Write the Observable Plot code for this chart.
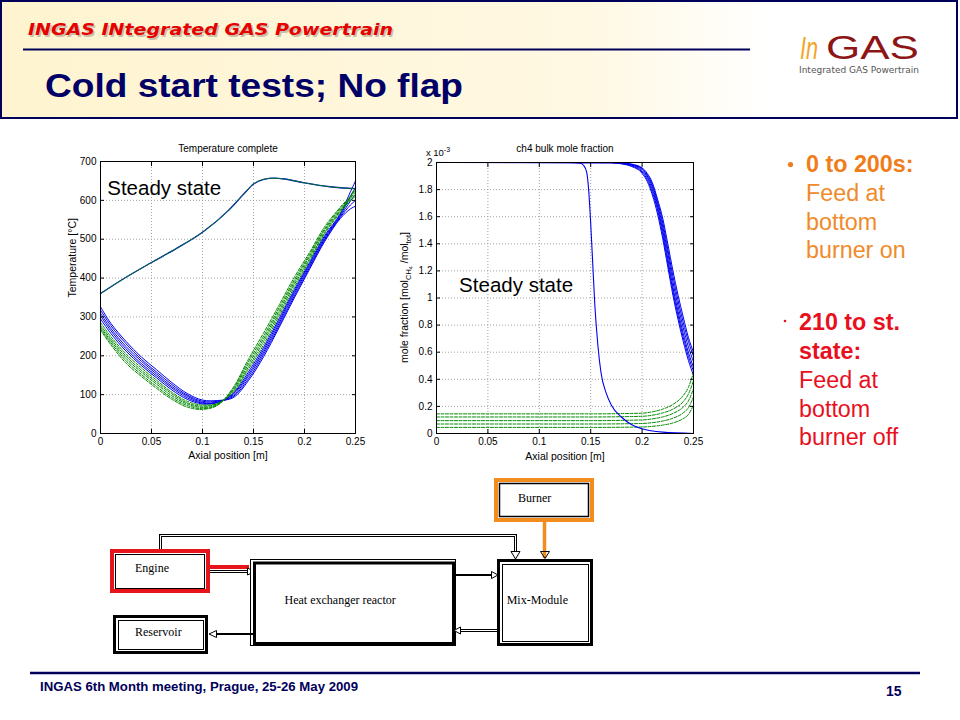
<!DOCTYPE html>
<html>
<head>
<meta charset="utf-8">
<script src="https://cdn.jsdelivr.net/npm/d3@7"></script>
<script src="https://cdn.jsdelivr.net/npm/@observablehq/plot@0.6"></script>
<style>
  html, body { margin: 0; padding: 0; background: #fff; }
  #page { position: relative; width: 960px; height: 720px; overflow: hidden; background: #fff; }
  #deco { position: absolute; left: 0; top: 0; }
  #tempChart { position: absolute; left: 60px; top: 135px; }
  #moleChart { position: absolute; left: 395px; top: 135px; }
</style>
</head>
<body>
<div id="page">
<svg id="deco" width="960" height="720" xmlns="http://www.w3.org/2000/svg">
  <defs>
    <linearGradient id="hdr" x1="0" x2="1" y1="0" y2="0">
      <stop offset="0" stop-color="#FFF4CF"/>
      <stop offset="0.62" stop-color="#FFF8E3"/>
      <stop offset="0.8" stop-color="#FFFFFF"/>
      <stop offset="1" stop-color="#FFFFFF"/>
    </linearGradient>
  </defs>
  <!-- header band -->
  <rect x="1" y="1" width="956" height="117" fill="url(#hdr)" stroke="#00005A" stroke-width="2"/>
  <text x="29.5" y="36.5" font-family="DejaVu Sans, Verdana, sans-serif" font-weight="bold" font-style="italic" font-size="16" fill="#C8C0A8" textLength="365" lengthAdjust="spacingAndGlyphs">INGAS INtegrated GAS Powertrain</text>
  <text x="28" y="35" font-family="DejaVu Sans, Verdana, sans-serif" font-weight="bold" font-style="italic" font-size="16" fill="#E60000" textLength="365" lengthAdjust="spacingAndGlyphs">INGAS INtegrated GAS Powertrain</text>
  <line x1="23" x2="750" y1="49.5" y2="49.5" stroke="#00005A" stroke-width="2"/>
  <text x="45" y="97" font-family="Liberation Sans, Arial, sans-serif" font-weight="bold" font-size="34" fill="#000066" textLength="418" lengthAdjust="spacingAndGlyphs">Cold start tests; No flap</text>
  <!-- logo -->
  <text x="800" y="58.5" font-family="Liberation Sans, Arial, sans-serif" font-style="italic" font-size="32" fill="#F2A52A" textLength="18" lengthAdjust="spacingAndGlyphs">In</text>
  <text x="826" y="58.5" font-family="Liberation Sans, Arial, sans-serif" font-size="33" fill="#8E1515" textLength="93" lengthAdjust="spacingAndGlyphs">GAS</text>
  <text x="799" y="73" font-family="DejaVu Sans, sans-serif" font-size="9.5" fill="#555" textLength="120" lengthAdjust="spacingAndGlyphs">Integrated GAS Powertrain</text>

  <!-- bullets -->
  <g font-family="Liberation Sans, Arial, sans-serif" font-size="23.3">
    <circle cx="790.5" cy="164.5" r="2.6" fill="#F07D1A"/>
    <text x="806" y="172" fill="#F07D1A" font-weight="bold">0 to 200s:</text>
    <text x="806" y="201" fill="#F08A2A">Feed at</text>
    <text x="806" y="229.5" fill="#F08A2A">bottom</text>
    <text x="806" y="258" fill="#F08A2A">burner on</text>
    <circle cx="785" cy="321" r="1.3" fill="#E8101E"/>
    <text x="799" y="330" fill="#E8101E" font-weight="bold">210 to st.</text>
    <text x="799" y="359" fill="#E8101E" font-weight="bold">state:</text>
    <text x="799" y="388" fill="#E8101E">Feed at</text>
    <text x="799" y="416.5" fill="#E8101E">bottom</text>
    <text x="799" y="445" fill="#E8101E">burner off</text>
  </g>

  <!-- process diagram -->
  <g font-family="Liberation Serif, Times New Roman, serif" font-size="12" fill="#000">
    <!-- Burner -->
    <rect x="496" y="480" width="96" height="40" fill="#fff" stroke="#F28C1C" stroke-width="4"/>
    <rect x="499.5" y="483.5" width="89" height="33" fill="none" stroke="#000" stroke-width="1.5"/>
    <text x="518" y="501.7">Burner</text>
    <line x1="544.5" x2="544.5" y1="522" y2="558" stroke="#F28C1C" stroke-width="3.5"/>
    <polygon points="540.5,551.5 549.5,551.5 545,558.5" fill="none" stroke="#000" stroke-width="1"/>
    <!-- loop from engine to mix -->
    <path d="M160.5,549 V535.5 H515.5 V552" fill="none" stroke="#000" stroke-width="3"/>
    <path d="M160.5,549 V535.5 H515.5 V551" fill="none" stroke="#fff" stroke-width="1"/>
    <polygon points="511,551.5 520,551.5 515.5,559" fill="#fff" stroke="#000" stroke-width="1"/>
    <!-- Engine -->
    <rect x="112" y="551" width="96" height="40" fill="#fff" stroke="#E8141B" stroke-width="4"/>
    <rect x="115.5" y="554.5" width="89" height="34" fill="none" stroke="#000" stroke-width="1"/>
    <text x="135" y="572.3">Engine</text>
    <!-- engine to HX -->
    <line x1="210" x2="249" y1="567" y2="567" stroke="#E8141B" stroke-width="4"/>
    <line x1="210" x2="247" y1="571.5" y2="571.5" stroke="#000" stroke-width="3"/>
    <line x1="210" x2="247" y1="571.5" y2="571.5" stroke="#fff" stroke-width="1"/>
    <polygon points="247.5,568 247.5,575 254.5,571.5" fill="#fff" stroke="#000" stroke-width="1"/>
    <!-- Heat exchanger reactor -->
    <rect x="250.5" y="559.5" width="205" height="86" fill="#fff" stroke="#000" stroke-width="1"/>
    <rect x="254.5" y="563" width="199" height="80.5" fill="none" stroke="#000" stroke-width="3"/>
    <text x="284.5" y="604">Heat exchanger reactor</text>
    <!-- HX to Mix -->
    <line x1="454" x2="492" y1="575" y2="575" stroke="#000" stroke-width="2"/>
    <polygon points="491.5,571.5 491.5,578.5 498,575" fill="#fff" stroke="#000" stroke-width="1"/>
    <!-- Mix-Module -->
    <rect x="498.5" y="560.5" width="93" height="84" fill="#fff" stroke="#000" stroke-width="3"/>
    <rect x="502.5" y="564.5" width="86" height="77" fill="none" stroke="#000" stroke-width="1"/>
    <text x="506.7" y="604">Mix-Module</text>
    <!-- Mix to HX -->
    <line x1="460" x2="497" y1="630.5" y2="630.5" stroke="#000" stroke-width="3"/>
    <line x1="460" x2="497" y1="630.5" y2="630.5" stroke="#fff" stroke-width="1"/>
    <polygon points="460.5,627 460.5,634 454,630.5" fill="#fff" stroke="#000" stroke-width="1"/>
    <!-- HX to Reservoir -->
    <line x1="216" x2="255" y1="634" y2="634" stroke="#000" stroke-width="2"/>
    <polygon points="216.5,630.5 216.5,637.5 209,634" fill="#fff" stroke="#000" stroke-width="1"/>
    <!-- Reservoir -->
    <rect x="114.5" y="616.5" width="92" height="36" fill="#fff" stroke="#000" stroke-width="3"/>
    <rect x="118.5" y="620.5" width="85" height="29" fill="none" stroke="#000" stroke-width="1"/>
    <text x="135" y="635.7">Reservoir</text>
  </g>

  <!-- footer -->
  <line x1="30" x2="920" y1="673" y2="673" stroke="#00005A" stroke-width="2.5"/>
  <text x="40" y="691" font-family="Liberation Sans Narrow, Liberation Sans, Arial, sans-serif" font-weight="bold" font-size="13" fill="#00005A" textLength="318" lengthAdjust="spacingAndGlyphs">INGAS 6th Month meeting, Prague, 25-26 May 2009</text>
  <text x="886" y="696" font-family="Liberation Sans, Arial, sans-serif" font-weight="bold" font-size="14" fill="#00005A">15</text>
</svg>
<div id="tempChart"></div>
<div id="moleChart"></div>
</div>
<script>
// ---------- data ----------
const xTicks = [0, 0.05, 0.1, 0.15, 0.2, 0.25];
const tempTicks = [0, 100, 200, 300, 400, 500, 600, 700];
const moleTicks = [0, 0.2, 0.4, 0.6, 0.8, 1, 1.2, 1.4, 1.6, 1.8, 2];

// Temperature chart: transient profiles (axial position [m] -> °C)
const tempX = [0, 0.01, 0.025, 0.04, 0.055, 0.07, 0.085, 0.1, 0.115, 0.13, 0.145, 0.16, 0.175, 0.19, 0.205, 0.22, 0.235, 0.245, 0.25];
const tempBlue1 = [326, 284, 237, 197, 164, 131, 103, 86, 85, 92, 136, 198, 272, 349, 423, 495, 553, 578, 585];
const tempBlue2 = [318, 278, 231, 191, 158, 126, 99, 83, 83, 95, 141, 204, 277, 354, 427, 499, 556, 588, 600];
const tempBlue3 = [310, 271, 224, 186, 153, 121, 96, 80, 81, 98, 147, 210, 283, 360, 431, 502, 559, 598, 615];
const tempBlue4 = [303, 265, 218, 180, 148, 117, 92, 78, 80, 101, 152, 216, 289, 365, 436, 506, 562, 610, 632];
const tempBlue5 = [295, 258, 212, 175, 143, 112, 88, 76, 80, 103, 158, 222, 295, 370, 440, 510, 565, 622, 650];
const tempGreen1 = [286, 250, 205, 169, 137, 106, 83, 73, 78, 106, 165, 229, 302, 376, 445, 515, 568, 600, 610];
const tempGreen2 = [279, 244, 199, 163, 132, 102, 79, 70, 77, 109, 171, 237, 309, 383, 450, 519, 572, 603, 616];
const tempGreen3 = [274, 239, 193, 158, 127, 97, 76, 67, 75, 112, 178, 244, 316, 389, 456, 524, 575, 606, 622];
const tempGreen4 = [270, 234, 187, 152, 121, 92, 72, 64, 74, 115, 185, 251, 323, 395, 461, 528, 579, 609, 628];
const tempGreen5 = [266, 229, 181, 147, 116, 88, 68, 62, 73, 118, 191, 259, 330, 402, 466, 533, 582, 612, 634];
// steady-state temperature profile
const steadyTempX = [0, 0.025, 0.05, 0.075, 0.1, 0.125, 0.14, 0.15, 0.16, 0.17, 0.18, 0.2, 0.225, 0.25];
const steadyTemp = [360, 402, 440, 477, 518, 573, 615, 642, 654, 657, 655, 645, 635, 630];

// CH4 bulk mole fraction chart (x 10^-3)
const steadyMoleX = [0, 0.13, 0.14, 0.143, 0.146, 0.148, 0.15, 0.152, 0.154, 0.157, 0.16, 0.165, 0.17, 0.18, 0.19, 0.2, 0.22, 0.25];
const steadyMole = [2, 2, 1.995, 1.98, 1.93, 1.8, 1.55, 1.25, 0.95, 0.65, 0.45, 0.3, 0.21, 0.12, 0.065, 0.035, 0.01, 0.0];
const moleX = [0, 0.17, 0.18, 0.19, 0.2, 0.205, 0.21, 0.215, 0.22, 0.225, 0.23, 0.235, 0.24, 0.245, 0.25];
const moleBlue1 = [2, 1.998, 1.99, 1.97, 1.92, 1.86, 1.76, 1.62, 1.44, 1.23, 1.02, 0.84, 0.68, 0.54, 0.43];
const moleBlue2 = [2, 1.998, 1.992, 1.975, 1.93, 1.875, 1.78, 1.65, 1.47, 1.26, 1.05, 0.87, 0.71, 0.57, 0.46];
const moleBlue3 = [2, 1.999, 1.994, 1.98, 1.94, 1.89, 1.8, 1.67, 1.5, 1.29, 1.08, 0.9, 0.74, 0.6, 0.49];
const moleBlue4 = [2, 1.999, 1.995, 1.983, 1.95, 1.9, 1.82, 1.69, 1.53, 1.33, 1.12, 0.94, 0.78, 0.64, 0.53];
const moleBlue5 = [2, 2, 1.996, 1.986, 1.955, 1.91, 1.835, 1.71, 1.56, 1.36, 1.16, 0.98, 0.82, 0.68, 0.57];
const moleBlue6 = [2, 2, 1.997, 1.988, 1.96, 1.92, 1.85, 1.73, 1.59, 1.4, 1.2, 1.02, 0.86, 0.71, 0.6];
const moleGreenX = [0, 0.15, 0.2, 0.21, 0.22, 0.23, 0.24, 0.245, 0.25];
const moleGreen1 = [0.145, 0.145, 0.15, 0.16, 0.18, 0.215, 0.28, 0.34, 0.45];
const moleGreen2 = [0.122, 0.122, 0.127, 0.135, 0.152, 0.18, 0.235, 0.29, 0.39];
const moleGreen3 = [0.095, 0.095, 0.1, 0.108, 0.122, 0.148, 0.195, 0.24, 0.33];
const moleGreen4 = [0.07, 0.07, 0.074, 0.08, 0.092, 0.113, 0.152, 0.19, 0.27];
const moleGreen5 = [0.045, 0.045, 0.048, 0.053, 0.062, 0.078, 0.11, 0.14, 0.21];

// ---------- helpers ----------
function rows(xs, seriesList, prefix) {
  return seriesList.flatMap((ys, i) => ys.map((y, j) => ({x: xs[j], y, s: prefix + i})));
}
const fmt = d => String(+(+d).toFixed(3));
const BLUE = "#0000F0", GREEN = "#008A00";
const gridStyle = {stroke: "#9a9a9a", strokeOpacity: 0.9, strokeDasharray: "1,2"};
const font = "Liberation Sans, Arial, Helvetica, sans-serif";

function frameAxes(yTicks) {
  return [
    Plot.axisX(xTicks, {anchor: "bottom", tickSize: -4, tickPadding: 8.5, tickFormat: fmt, label: null, fontSize: 10}),
    Plot.axisX(xTicks, {anchor: "top", tickSize: -4, tickFormat: () => "", label: null}),
    Plot.axisY(yTicks, {anchor: "left", tickSize: -4, tickPadding: 8, tickFormat: fmt, label: null, fontSize: 10}),
    Plot.axisY(yTicks, {anchor: "right", tickSize: -4, tickFormat: () => "", label: null})
  ];
}

// ---------- temperature chart ----------
const tBlue = rows(tempX, [tempBlue1, tempBlue2, tempBlue3, tempBlue4, tempBlue5], "b");
const tGreen = rows(tempX, [tempGreen1, tempGreen2, tempGreen3, tempGreen4, tempGreen5], "g");
const tSteady = rows(steadyTempX, [steadyTemp], "s");

const tempPlot = Plot.plot({
  width: 310, height: 330,
  marginLeft: 40, marginRight: 15, marginTop: 26, marginBottom: 32,
  style: {fontFamily: font, fontSize: "10px", color: "#000", background: "#fff"},
  x: {domain: [0, 0.25]},
  y: {domain: [0, 700]},
  marks: [
    Plot.gridX(xTicks, gridStyle),
    Plot.gridY(tempTicks, gridStyle),
    Plot.line(tBlue, {x: "x", y: "y", z: "s", stroke: BLUE, strokeWidth: 1, curve: "catmull-rom"}),
    Plot.line(tGreen, {x: "x", y: "y", z: "s", stroke: GREEN, strokeWidth: 1, strokeDasharray: "3,1.5", curve: "catmull-rom"}),
    Plot.line(tSteady, {x: "x", y: "y", stroke: BLUE, strokeWidth: 1.3, curve: "monotone-x"}),
    Plot.line(tSteady, {x: "x", y: "y", stroke: GREEN, strokeWidth: 1, strokeDasharray: "3,1.5", curve: "monotone-x"}),
    Plot.frame({stroke: "#000"}),
    ...frameAxes(tempTicks),
    Plot.text(["Steady state"], {x: 0.0066, y: 615, textAnchor: "start", lineAnchor: "bottom", fontSize: 20.5, fill: "#000"}),
    Plot.text(["Temperature complete"], {frameAnchor: "top", dy: -12.5, lineAnchor: "middle", fontSize: 10}),
    Plot.text(["Axial position [m]"], {frameAnchor: "bottom", dy: 22, lineAnchor: "middle", fontSize: 10.5}),
    Plot.text(["Temperature [°C]"], {frameAnchor: "left", dx: -27.5, rotate: -90, lineAnchor: "middle", fontSize: 10.5})
  ]
});
document.getElementById("tempChart").appendChild(tempPlot);

// ---------- mole fraction chart ----------
const mBlue = rows(moleX, [moleBlue1, moleBlue2, moleBlue3, moleBlue4, moleBlue5, moleBlue6], "b");
const mSteady = rows(steadyMoleX, [steadyMole], "s");
const mGreen = rows(moleGreenX, [moleGreen1, moleGreen2, moleGreen3, moleGreen4, moleGreen5], "g");

const molePlot = Plot.plot({
  width: 310, height: 330,
  marginLeft: 41, marginRight: 12, marginTop: 27, marginBottom: 32,
  style: {fontFamily: font, fontSize: "10px", color: "#000", background: "#fff"},
  x: {domain: [0, 0.25]},
  y: {domain: [0, 2]},
  marks: [
    Plot.gridX(xTicks, gridStyle),
    Plot.gridY(moleTicks, gridStyle),
    Plot.line(mGreen, {x: "x", y: "y", z: "s", stroke: GREEN, strokeWidth: 1, strokeDasharray: "3,1.5", curve: "monotone-x"}),
    Plot.line(mBlue, {x: "x", y: "y", z: "s", stroke: BLUE, strokeWidth: 1, curve: "monotone-x"}),
    Plot.line(mSteady, {x: "x", y: "y", stroke: BLUE, strokeWidth: 1.1, curve: "monotone-x"}),
    Plot.frame({stroke: "#000"}),
    ...frameAxes(moleTicks),
    Plot.text(["Steady state"], {x: 0.022, y: 1.046, textAnchor: "start", lineAnchor: "bottom", fontSize: 20.5, fill: "#000"}),
    Plot.text(["ch4 bulk mole fraction"], {frameAnchor: "top", dy: -14, lineAnchor: "middle", fontSize: 10}),
    Plot.text(["Axial position [m]"], {frameAnchor: "bottom", dy: 23, lineAnchor: "middle", fontSize: 10.5})
  ]
});
document.getElementById("moleChart").appendChild(molePlot);

// rich-text labels (sub/superscripts) for the mole fraction chart
const msvg = d3.select(molePlot.tagName.toLowerCase() === "svg" ? molePlot : molePlot.querySelector("svg"));
const exp = msvg.append("text").attr("x", 43).attr("y", 20.5).attr("font-size", 9.5).attr("font-family", font).attr("fill", "#000");
exp.append("tspan").text("x 10");
exp.append("tspan").attr("dy", -4).attr("font-size", 7).text("-3");

const yl = msvg.append("text")
  .attr("transform", "translate(9.5,162.5) rotate(-90)")
  .attr("text-anchor", "middle").attr("dy", "0.35em")
  .attr("font-size", 10.5).attr("font-family", font).attr("fill", "#000");
yl.append("tspan").text("mole fraction [mol");
yl.append("tspan").attr("dy", 3).attr("font-size", 7.5).text("CH");
yl.append("tspan").attr("dy", 2).attr("font-size", 5.5).text("4");
yl.append("tspan").attr("dy", -5).text(" /mol");
yl.append("tspan").attr("dy", 3).attr("font-size", 7.5).text("tot");
yl.append("tspan").attr("dy", -3).text("]");
</script>
</body>
</html>
